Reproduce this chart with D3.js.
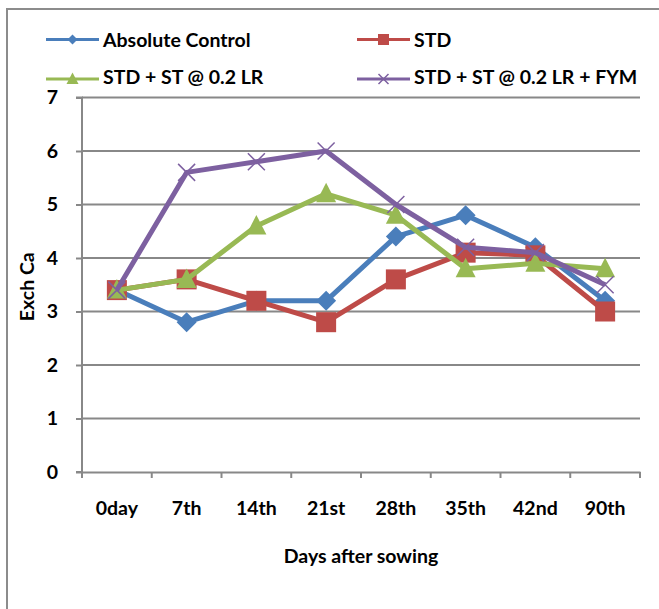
<!DOCTYPE html>
<html><head><meta charset="utf-8">
<script src="https://cdn.jsdelivr.net/npm/d3@7"></script>
<style>body{margin:0;background:#fff}svg{display:block;font-family:Lato,"Open Sans",sans-serif;font-weight:bold}</style>
</head><body><svg id="c" width="659" height="609"></svg>
<script>
const categories = ["0day","7th","14th","21st","28th","35th","42nd","90th"];
const absoluteControl = [3.4,2.8,3.2,3.2,4.4,4.8,4.2,3.2];
const std = [3.4,3.6,3.2,2.8,3.6,4.1,4.05,3.0];
const stdSt = [3.4,3.6,4.6,5.2,4.8,3.8,3.9,3.8];
const stdStFym = [3.4,5.6,5.8,6.0,5.0,4.2,4.1,3.5];
const yTicks = [0,1,2,3,4,5,6,7];
const seriesNames = ["Absolute Control","STD","STD + ST @ 0.2 LR","STD + ST @ 0.2 LR + FYM"];

const series = [
  {name:seriesNames[0], values:absoluteControl, color:"#4A7EBB", marker:"diamond"},
  {name:seriesNames[1], values:std, color:"#BE4B48", marker:"square"},
  {name:seriesNames[2], values:stdSt, color:"#98B954", marker:"triangle"},
  {name:seriesNames[3], values:stdStFym, color:"#7D60A0", marker:"x"}
];
const FS = 19.5;

const svg = d3.select("#c");
svg.append("rect").attr("x",7).attr("y",9).attr("width",700).attr("height",700)
  .attr("fill","none").attr("stroke","#8c8c8c").attr("stroke-width",2);

const L=82,R=640,T=97.5,B=472;
const x = d3.scaleBand().domain(categories).range([L,R]);
const y = d3.scaleLinear().domain([0,7]).range([B,T]);

// gridlines
svg.append("g").selectAll("line").data(yTicks.filter(d=>d>0)).join("line")
  .attr("x1",L).attr("x2",R).attr("y1",d=>y(d)).attr("y2",d=>y(d))
  .attr("stroke","#888").attr("stroke-width",2);

// y axis
const ya = svg.append("g").attr("transform",`translate(${L},0)`)
  .call(d3.axisLeft(y).tickValues(yTicks).tickSize(6).tickPadding(18).tickFormat(d3.format("d")));
ya.select(".domain").attr("stroke","#888").attr("stroke-width",2).attr("d",`M-6,${T}H0V${B}H-6`);
ya.selectAll(".tick line").attr("stroke","#888").attr("stroke-width",2);
ya.selectAll("text").attr("font-size",FS).attr("font-family","Lato,sans-serif").attr("font-weight","bold").attr("fill","#000");

// x axis
const xa = svg.append("g").attr("transform",`translate(0,${B})`)
  .call(d3.axisBottom(x).tickSize(0).tickPadding(29));
xa.select(".domain").attr("stroke","#888").attr("stroke-width",2);
xa.selectAll("text").attr("font-size",FS).attr("font-family","Lato,sans-serif").attr("font-weight","bold").attr("fill","#000");
const bounds = categories.map(c=>x(c)).concat([R]);
svg.append("g").selectAll("line").data(bounds).join("line")
  .attr("x1",d=>d).attr("x2",d=>d).attr("y1",B).attr("y2",B+6)
  .attr("stroke","#888").attr("stroke-width",2);

// titles
svg.append("text").attr("x",(L+R)/2).attr("y",563).attr("text-anchor","middle")
  .attr("font-size",FS).text("Days after sowing");
svg.append("text").attr("transform",`translate(34,${(T+B)/2+2}) rotate(-90)`).attr("text-anchor","middle")
  .attr("font-size",FS).text("Exch Ca");

function drawMarker(g, type, cx, cy, color, s){
  if(type==="diamond"){
    g.append("path").attr("d",`M${cx},${cy-s}L${cx+s},${cy}L${cx},${cy+s}L${cx-s},${cy}Z`).attr("fill",color);
  } else if(type==="square"){
    g.append("rect").attr("x",cx-s).attr("y",cy-s).attr("width",2*s).attr("height",2*s).attr("fill",color);
  } else if(type==="triangle"){
    g.append("path").attr("d",`M${cx},${cy-s*1.1}L${cx+s},${cy+s*0.85}L${cx-s},${cy+s*0.85}Z`).attr("fill",color);
  } else {
    g.append("path").attr("d",`M${cx-s},${cy-s}L${cx+s},${cy+s}M${cx-s},${cy+s}L${cx+s},${cy-s}`)
      .attr("stroke",color).attr("stroke-width",1.5).attr("fill","none");
  }
}
const msize = {diamond:10,square:10,triangle:10,x:8.5};

const line = d3.line().x((d,i)=>x(categories[i])+x.bandwidth()/2).y(d=>y(d));
series.forEach(s=>{
  const g = svg.append("g");
  g.append("path").attr("d",line(s.values)).attr("fill","none").attr("stroke",s.color)
    .attr("stroke-width",5).attr("stroke-linejoin","round");
  s.values.forEach((v,i)=>drawMarker(g,s.marker,x(categories[i])+x.bandwidth()/2,y(v),s.color,msize[s.marker]));
});

// legend
const legPos = [[46,39.5],[357,39.5],[46,79],[357,79]];
series.forEach((s,i)=>{
  const [lx,ly]=legPos[i];
  const g = svg.append("g");
  g.append("line").attr("x1",lx).attr("x2",lx+53).attr("y1",ly).attr("y2",ly).attr("stroke",s.color).attr("stroke-width",3);
  drawMarker(g,s.marker,lx+26.5,ly,s.color,{diamond:5,square:5.5,triangle:6,x:5}[s.marker]);
  g.append("text").attr("x",lx+57).attr("y",i<2?ly+7:ly+4.5).attr("font-size",FS).text(s.name);
});
</script></body></html>
